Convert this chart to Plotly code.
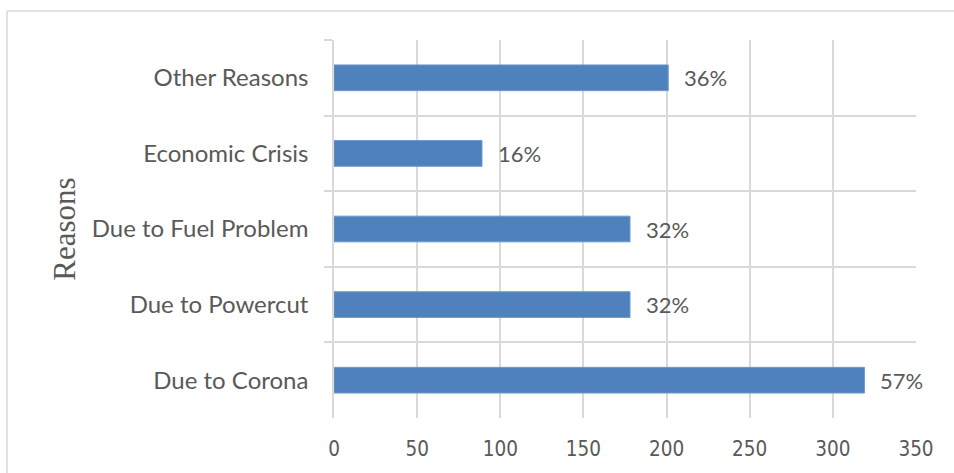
import plotly.graph_objects as go

reasons = ["Other Reasons", "Economic Crisis", "Due to Fuel Problem", "Due to Powercut", "Due to Corona"]
counts = [201, 89, 178, 178, 319]
shares = ["36%", "16%", "32%", "32%", "57%"]
x_ticks = [0, 50, 100, 150, 200, 250, 300, 350]

grey_text = "#595959"
grid = "#d9d9d9"
label_font = dict(family="Lato, Open Sans, sans-serif", size=24, color=grey_text)
pct_font = dict(family="Lato, Open Sans, sans-serif", size=22, color=grey_text)
xtick_font = dict(family="DejaVu Sans Condensed, Lato, sans-serif", size=20.5, color=grey_text)

fig = go.Figure(go.Bar(
    x=counts, y=reasons, orientation="h",
    marker=dict(color="#4f81bd", line=dict(color="#6f97cb", width=1)),
    width=0.34, hoverinfo="x+y",
))

# percentage labels to the right of each bar
for r, c, s in zip(reasons, counts, shares):
    fig.add_annotation(x=c, y=r, text=s, showarrow=False, xanchor="left",
                       xshift=14, font=pct_font)

# outer chart frame (cut off at right and bottom in the original)
L, T, W, H = 334, 40, 582, 378
fx0 = (7 - L) / W
fy1 = (T + H - 11) / H
frame = dict(type="line", xref="paper", yref="paper", line=dict(color=grid, width=1.5))
fig.add_shape(x0=fx0, x1=fx0, y0=-1, y1=fy1, **frame)
fig.add_shape(x0=fx0, x1=2, y0=fy1, y1=fy1, **frame)

fig.update_layout(
    width=954, height=473,
    margin=dict(l=L, r=954 - L - W, t=T, b=473 - T - H),
    plot_bgcolor="white", paper_bgcolor="white",
    showlegend=False,
    font=label_font,
)
fig.update_xaxes(
    range=[0, 350], tickvals=x_ticks, showgrid=True, gridcolor=grid, gridwidth=1.5,
    zeroline=False, showline=False, ticks="", ticklabelstandoff=16,
    tickfont=xtick_font, fixedrange=True,
)
fig.update_yaxes(
    type="category", autorange="reversed", tickson="boundaries",
    showgrid=True, gridcolor=grid, gridwidth=1.5,
    ticks="outside", ticklen=8, tickcolor=grid, tickwidth=1.5,
    showline=True, linecolor=grid, linewidth=1.5,
    ticklabelstandoff=19, tickfont=label_font,
    title=dict(text="Reasons", font=dict(family="Liberation Serif, serif", size=31, color=grey_text),
               standoff=7),
    fixedrange=True,
)

fig.write_html("out.html", config={"displayModeBar": False},
               post_script="document.body.style.margin='0px';")
